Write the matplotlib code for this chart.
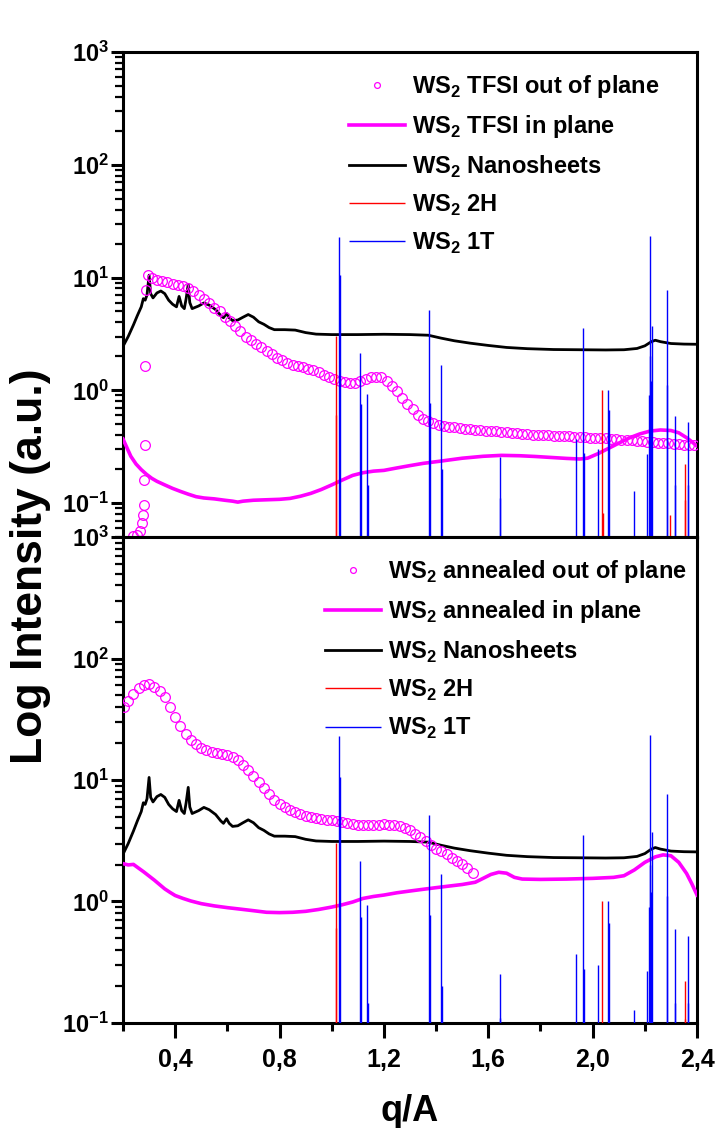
import matplotlib

matplotlib.use("Agg")
import matplotlib.pyplot as plt
from matplotlib.ticker import FuncFormatter, LogLocator, MultipleLocator, NullFormatter

plt.rcParams["font.family"] = ["Liberation Sans", "DejaVu Sans"]
plt.rcParams["font.weight"] = "bold"

# WS2 nanosheets reference curve (same in both panels)
q_nano = [0.2, 0.22, 0.24, 0.255, 0.27, 0.278, 0.285, 0.292, 0.3, 0.306, 0.315, 0.33, 0.345, 0.36, 0.375,
          0.39, 0.405, 0.415, 0.425, 0.435, 0.442, 0.45, 0.456, 0.465, 0.49, 0.51, 0.53, 0.555, 0.575, 0.585,
          0.597, 0.607, 0.62, 0.64, 0.66, 0.68, 0.70, 0.72, 0.74, 0.76, 0.78, 0.82, 0.86, 0.9, 0.94, 1.0,
          1.1, 1.2, 1.3, 1.37, 1.42, 1.47, 1.53, 1.6, 1.67, 1.75, 1.85, 1.95, 2.05, 2.12, 2.17, 2.2, 2.225,
          2.24, 2.26, 2.3, 2.35, 2.4]
i_nano = [2.45, 3.0, 3.8, 4.6, 5.5, 6.5, 6.3, 7.0, 10.5, 7.2, 6.6, 7.3, 7.6, 7.2, 6.3,
          5.8, 5.5, 6.8, 5.6, 5.3, 6.5, 8.7, 6.0, 5.3, 5.6, 5.95, 5.7, 5.2, 4.6, 4.4,
          4.8, 4.4, 4.15, 4.2, 4.45, 4.7, 4.45, 4.05, 3.85, 3.6, 3.45, 3.45, 3.42, 3.25, 3.15, 3.12,
          3.12, 3.14, 3.12, 3.08, 2.9, 2.75, 2.62, 2.5, 2.4, 2.34, 2.3, 2.29, 2.28, 2.29, 2.35, 2.48, 2.7,
          2.78, 2.7, 2.6, 2.57, 2.56]

# TFSI out of plane (points)
q_tfsi_out = [0.240, 0.252, 0.265, 0.272, 0.276, 0.279, 0.281, 0.283, 0.286, 0.288,
              0.297, 0.31, 0.33, 0.35, 0.37, 0.39, 0.41, 0.43, 0.45, 0.47, 0.49, 0.51, 0.53, 0.55, 0.57,
              0.59, 0.61, 0.63, 0.65, 0.67, 0.69, 0.71, 0.73, 0.75, 0.77, 0.79, 0.81, 0.83, 0.85, 0.87,
              0.89, 0.91, 0.93, 0.95, 0.97, 0.99, 1.01, 1.03, 1.05, 1.07, 1.09, 1.11, 1.13, 1.15, 1.17,
              1.19, 1.21, 1.23, 1.25, 1.27, 1.29, 1.31, 1.33, 1.35, 1.37, 1.39, 1.41, 1.43, 1.45, 1.47,
              1.49, 1.51, 1.53, 1.55, 1.57, 1.59, 1.61, 1.63, 1.65, 1.67, 1.69, 1.71, 1.73, 1.75, 1.77,
              1.79, 1.81, 1.83, 1.85, 1.87, 1.89, 1.91, 1.93, 1.95, 1.97, 1.99, 2.01, 2.03, 2.05, 2.07,
              2.09, 2.11, 2.13, 2.15, 2.17, 2.19, 2.21, 2.23, 2.25, 2.27, 2.29, 2.31, 2.33, 2.35, 2.37,
              2.39]
i_tfsi_out = [0.051, 0.052, 0.057, 0.067, 0.079, 0.097, 0.161, 0.33, 1.63, 7.8,
              10.5, 10.0, 9.6, 9.4, 9.2, 8.8, 8.6, 8.4, 8.0, 7.6, 7.0, 6.4, 5.9, 5.4, 5.0,
              4.5, 4.1, 3.7, 3.35, 3.0, 2.8, 2.6, 2.4, 2.25, 2.08, 1.95, 1.84, 1.75, 1.69, 1.64,
              1.6, 1.56, 1.5, 1.45, 1.38, 1.32, 1.27, 1.22, 1.19, 1.17, 1.17, 1.2, 1.26, 1.3, 1.32,
              1.3, 1.22, 1.1, 0.98, 0.86, 0.76, 0.68, 0.61, 0.56, 0.53, 0.51, 0.495, 0.485, 0.475, 0.47,
              0.463, 0.457, 0.452, 0.448, 0.444, 0.44, 0.437, 0.433, 0.43, 0.425, 0.42, 0.416, 0.412, 0.408, 0.405,
              0.402, 0.4, 0.398, 0.396, 0.394, 0.392, 0.39, 0.387, 0.385, 0.383, 0.381, 0.379, 0.377, 0.375, 0.372,
              0.369, 0.366, 0.362, 0.359, 0.356, 0.352, 0.35, 0.347, 0.344, 0.342, 0.339, 0.336, 0.333, 0.33, 0.328,
              0.325]

# TFSI in plane (line)
q_tfsi_in = [0.2, 0.215, 0.23, 0.25, 0.27, 0.29, 0.31, 0.33, 0.36, 0.39, 0.42, 0.45, 0.48, 0.51, 0.55,
             0.59, 0.62, 0.64, 0.66, 0.70, 0.75, 0.80, 0.84, 0.88, 0.92, 0.96, 1.0, 1.04, 1.08, 1.12,
             1.16, 1.2, 1.25, 1.3, 1.35, 1.42, 1.5, 1.58, 1.65, 1.72, 1.78, 1.84, 1.9, 1.95, 1.98,
             2.02, 2.06, 2.1, 2.14, 2.18, 2.22, 2.26, 2.3, 2.33, 2.36, 2.38, 2.4]
i_tfsi_in = [0.37, 0.31, 0.26, 0.222, 0.198, 0.18, 0.166, 0.156, 0.145, 0.135, 0.127, 0.12, 0.114, 0.111, 0.109,
             0.106, 0.104, 0.102, 0.104, 0.106, 0.107, 0.108, 0.11, 0.115, 0.122, 0.132, 0.145, 0.16, 0.176, 0.186,
             0.192, 0.195, 0.205, 0.215, 0.225, 0.236, 0.25, 0.26, 0.265, 0.263, 0.259, 0.254, 0.249, 0.246, 0.25,
             0.274, 0.305, 0.34, 0.378, 0.41, 0.435, 0.445, 0.44, 0.42, 0.38, 0.35, 0.32]

# annealed out of plane (points)
q_ann_out = [0.204, 0.22, 0.24, 0.26, 0.28, 0.30, 0.32, 0.34, 0.36, 0.38, 0.40, 0.42, 0.44, 0.46, 0.48,
             0.50, 0.52, 0.54, 0.56, 0.58, 0.60, 0.62, 0.64, 0.66, 0.68, 0.70, 0.72, 0.74, 0.76, 0.78,
             0.80, 0.82, 0.84, 0.86, 0.88, 0.90, 0.92, 0.94, 0.96, 0.98, 1.00, 1.02, 1.04, 1.06, 1.08,
             1.10, 1.12, 1.14, 1.16, 1.18, 1.20, 1.22, 1.24, 1.26, 1.28, 1.30, 1.32, 1.34, 1.36, 1.38,
             1.40, 1.42, 1.44, 1.46, 1.48, 1.50, 1.52, 1.54]
i_ann_out = [39.7, 45, 51, 57, 61, 62, 58, 54, 48, 40, 33, 28, 24, 21.5, 19.8,
             18.5, 17.6, 17.1, 16.7, 16.3, 16.0, 15.5, 14.6, 13.4, 12.0, 10.8, 9.6, 8.6, 7.7, 6.9,
             6.4, 6.0, 5.7, 5.45, 5.25, 5.1, 4.98, 4.88, 4.8, 4.72, 4.65, 4.57, 4.5, 4.42, 4.36,
             4.3, 4.26, 4.23, 4.25, 4.3, 4.32, 4.3, 4.25, 4.15, 4.02, 3.85, 3.62, 3.4, 3.15, 2.92,
             2.73, 2.58, 2.45, 2.3, 2.16, 2.02, 1.9, 1.72]

# annealed in plane (line)
q_ann_in = [0.2, 0.22, 0.24, 0.26, 0.28, 0.30, 0.32, 0.34, 0.36, 0.38, 0.40, 0.43, 0.46, 0.50, 0.55,
            0.60, 0.65, 0.70, 0.75, 0.80, 0.85, 0.90, 0.95, 1.0, 1.04, 1.08, 1.12, 1.16, 1.2, 1.25,
            1.3, 1.35, 1.4, 1.45, 1.5, 1.55, 1.58, 1.61, 1.64, 1.67, 1.70, 1.73, 1.8, 1.9, 2.0,
            2.08, 2.12, 2.16, 2.2, 2.24, 2.27, 2.3, 2.33, 2.36, 2.38, 2.4]
i_ann_in = [2.05, 2.0, 2.02, 1.88, 1.75, 1.62, 1.5, 1.38, 1.27, 1.19, 1.12, 1.06, 1.01, 0.96, 0.92,
            0.89, 0.865, 0.84, 0.815, 0.81, 0.815, 0.83, 0.86, 0.9, 0.94, 0.99, 1.06, 1.1, 1.13, 1.18,
            1.22, 1.26, 1.3, 1.34, 1.38, 1.44, 1.55, 1.67, 1.74, 1.71, 1.58, 1.53, 1.52, 1.53, 1.55,
            1.58, 1.63, 1.82, 2.1, 2.33, 2.42, 2.38, 2.1, 1.7, 1.4, 1.13]

# reference stick patterns
q_1t = [1.027, 1.11, 1.137, 1.372, 1.42, 1.643, 1.938, 1.963, 2.02, 2.06, 2.158, 2.207, 2.218, 2.227,
        2.283, 2.314, 2.364]
i_1t = [23, 2.14, 0.93, 5.2, 1.68, 0.255, 0.37, 3.55, 0.30, 1.01, 0.128, 0.27, 23.4, 3.7,
        7.7, 0.59, 0.52]
q_1t_b = [1.031, 1.112, 1.139, 1.375, 1.422, 1.645, 1.966, 2.062, 2.216, 2.221, 2.224, 2.285, 2.316, 2.366]
i_1t_b = [10.6, 0.75, 0.146, 0.77, 0.2, 0.11, 0.28, 0.67, 0.9, 2.0, 1.2, 1.12, 0.146, 0.146]
q_2h = [1.015, 2.036, 2.295, 2.352]
i_2h = [3.05, 1.0, 0.079, 0.22]
q_2h_b = [1.017, 2.038, 2.354]
i_2h_b = [0.6, 0.081, 0.107]

labels_top = ["TFSI out of plane", "TFSI in plane", "Nanosheets", "2H", "1T"]
labels_bot = ["annealed out of plane", "annealed in plane", "Nanosheets", "2H", "1T"]


def ws2(text):
    return r"WS$_\mathdefault{2}$ " + text


def draw_panel(ax, q_out, i_out, q_in, i_in, labels, ylo):
    ln_nano, = ax.plot(q_nano, i_nano, color="black", lw=2.0, zorder=2)
    ln_in, = ax.plot(q_in, i_in, color="#ff00ff", lw=2.6, zorder=3)
    ln_out, = ax.plot(q_out, i_out, "o", ms=7, mfc="none", mec="#ff00ff", mew=0.9, zorder=4)
    v2h = ax.vlines(q_2h, 1e-3, i_2h, color="#ff0000", lw=1.0, zorder=5)
    ax.vlines(q_2h_b, 1e-3, i_2h_b, color="#ff0000", lw=1.0, zorder=5)
    v1t = ax.vlines(q_1t, 1e-3, i_1t, color="#0000ff", lw=1.0, zorder=6)
    ax.vlines(q_1t_b, 1e-3, i_1t_b, color="#0000ff", lw=1.0, zorder=6)

    ax.set_yscale("log")
    ax.set_xlim(0.2, 2.4)
    ax.set_ylim(ylo, 1000)
    ax.yaxis.set_major_locator(LogLocator(base=10))
    ax.yaxis.set_minor_locator(LogLocator(base=10, subs=range(2, 10)))
    ax.yaxis.set_minor_formatter(NullFormatter())
    for sp in ax.spines.values():
        sp.set_linewidth(2.2)
    ax.tick_params(axis="y", which="major", direction="out", length=9, width=2.2, pad=1, labelsize=17)
    ax.tick_params(axis="y", which="minor", direction="out", length=5.5, width=1.6)
    ax.tick_params(axis="x", which="major", direction="out", length=8, width=2.2)
    ax.tick_params(axis="x", which="minor", direction="out", length=5.5, width=2.2)

    handles = [ln_out, ln_in, ln_nano, v2h, v1t]
    return ax.legend(handles, [ws2(t) for t in labels], frameon=False, fontsize=17,
                     handlelength=2.35, handletextpad=0.3, labelspacing=0.55, borderpad=0,
                     borderaxespad=0, markerscale=0.6, numpoints=1, loc="upper left")


fig = plt.figure(figsize=(7.18, 11.28), dpi=100)
ax1 = fig.add_axes([0.1713, 0.5239, 0.7995, 0.4300])
ax2 = fig.add_axes([0.1713, 0.0931, 0.7995, 0.4308])

leg1 = draw_panel(ax1, q_tfsi_out, i_tfsi_out, q_tfsi_in, i_tfsi_in, labels_top, 0.05)
leg1.set_bbox_to_anchor((0.394, 0.956), transform=ax1.transAxes)
ax1.xaxis.set_major_locator(MultipleLocator(0.1))
ax1.tick_params(axis="x", labelbottom=False)

leg2 = draw_panel(ax2, q_ann_out, i_ann_out, q_ann_in, i_ann_in, labels_bot, 0.1)
leg2.set_bbox_to_anchor((0.352, 0.956), transform=ax2.transAxes)
ax2.xaxis.set_major_locator(MultipleLocator(0.4))
ax2.xaxis.set_minor_locator(MultipleLocator(0.2))
ax2.xaxis.set_major_formatter(FuncFormatter(lambda v, p: f"{v:.1f}".replace(".", ",")))
ax2.tick_params(axis="x", which="major", length=11, pad=7, labelsize=18)

fig.text(0.042, 0.498, "Log Intensity (a.u.)", rotation=90, ha="center", va="center",
         fontsize=32, fontweight="bold")
fig.text(0.571, 0.006, "q/A", ha="center", va="baseline", fontsize=26, fontweight="bold")

fig.savefig("out.png", dpi=100)
